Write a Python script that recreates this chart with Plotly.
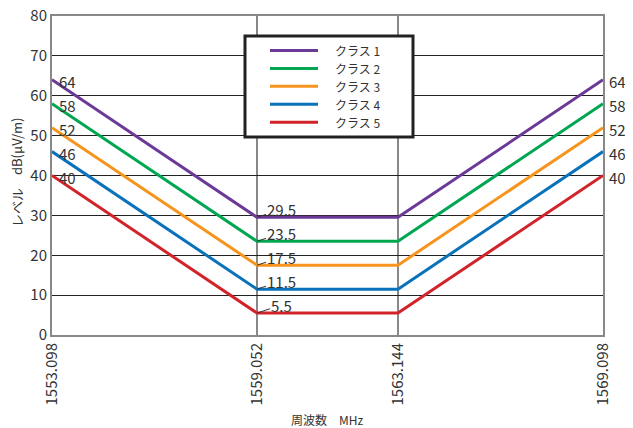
import plotly.graph_objects as go

freqs = [1553.098, 1559.052, 1563.144, 1569.098]
freq_labels = ["1553.098", "1559.052", "1563.144", "1569.098"]
class_names = ["クラス 1", "クラス 2", "クラス 3", "クラス 4", "クラス 5"]
class1 = [64, 29.5, 29.5, 64]
class2 = [58, 23.5, 23.5, 58]
class3 = [52, 17.5, 17.5, 52]
class4 = [46, 11.5, 11.5, 46]
class5 = [40, 5.5, 5.5, 40]
series = [class1, class2, class3, class4, class5]
colors = ["#6B3A97", "#00A650", "#F7941D", "#0A72BA", "#D2232A"]
y_ticks = [0, 10, 20, 30, 40, 50, 60, 70, 80]

FONT = "Noto Sans CJK JP"
TXT = "#333"

# page body has an 8px margin, so the figure is drawn 8px in from the corner
PL, PR, PT, PB = 52, 603, 16, 335  # plot area in page pixels
def px(xp):
    return (xp - PL) / (PR - PL)
def py(yp):
    return (PB - yp) / (PB - PT)

fig = go.Figure()
for name, vals, c in zip(class_names, series, colors):
    fig.add_trace(go.Scatter(x=freqs, y=vals, mode="lines", name=name,
                             line=dict(color=c, width=3), showlegend=False))

ann = []
for vals in series:
    ann.append(dict(x=freqs[0], y=vals[0], text=str(vals[0]), showarrow=False,
                    xanchor="left", yanchor="middle", xshift=5, yshift=-2,
                    font=dict(family=FONT, size=15, color=TXT)))
    ann.append(dict(x=freqs[-1], y=vals[-1], text=str(vals[-1]), showarrow=False,
                    xanchor="left", yanchor="middle", xshift=4, yshift=-2,
                    font=dict(family=FONT, size=15, color=TXT)))
    ann.append(dict(x=freqs[1], y=vals[1], text=str(vals[1]), showarrow=True,
                    arrowhead=0, arrowwidth=1, arrowcolor=TXT, ax=24, ay=-8,
                    borderpad=0,
                    font=dict(family=FONT, size=15, color=TXT)))

# manual legend box
shapes = [dict(type="rect", xref="paper", yref="paper",
               x0=px(245), x1=px(413), y0=py(137), y1=py(36),
               line=dict(color="#222", width=3), fillcolor="white", layer="above")]
row_y = [50.5, 68.5, 86.3, 104.2, 122.2]
for name, c, ry in zip(class_names, colors, row_y):
    shapes.append(dict(type="line", xref="paper", yref="paper",
                       x0=px(270), x1=px(318), y0=py(ry), y1=py(ry),
                       line=dict(color=c, width=3), layer="above"))
    ann.append(dict(xref="paper", yref="paper", x=px(333), y=py(ry), text=name,
                    showarrow=False, xanchor="left", yanchor="middle",
                    font=dict(family=FONT, size=12, color=TXT)))

# axis titles
ann.append(dict(xref="paper", yref="paper", x=px(327), y=py(419), text="周波数　MHz",
                showarrow=False, xanchor="center", yanchor="middle",
                font=dict(family=FONT, size=12, color=TXT)))
ann.append(dict(xref="paper", yref="paper", x=px(16), y=py(172), text="レベル　dB(μV/m)",
                showarrow=False, xanchor="center", yanchor="middle", textangle=-90,
                font=dict(family=FONT, size=13, color=TXT)))

fig.update_layout(
    width=625, height=420,
    margin=dict(l=44, r=30, t=8, b=93, autoexpand=False),
    paper_bgcolor="white", plot_bgcolor="white",
    font=dict(family=FONT, size=14, color=TXT),
    annotations=ann, shapes=shapes,
    showlegend=False,
    xaxis=dict(range=[freqs[0], freqs[-1]], tickmode="array", tickvals=freqs,
               ticktext=freq_labels, tickangle=-90, showgrid=True,
               gridcolor="#888", gridwidth=1.5, showline=True, linecolor="#888",
               linewidth=2, mirror=True, zeroline=False, ticks="", automargin=False,
               ticklabeloverflow="allow",
               tickfont=dict(family=FONT, size=15, color=TXT)),
    yaxis=dict(range=[0, 80], tickmode="array", tickvals=y_ticks, showgrid=True,
               gridcolor="#222", gridwidth=1, showline=True, linecolor="#888",
               linewidth=2, mirror=True, zeroline=False, ticks="", automargin=False,
               ticklabeloverflow="allow",
               tickfont=dict(family=FONT, size=15, color=TXT)),
)
fig.write_html("out.html")
